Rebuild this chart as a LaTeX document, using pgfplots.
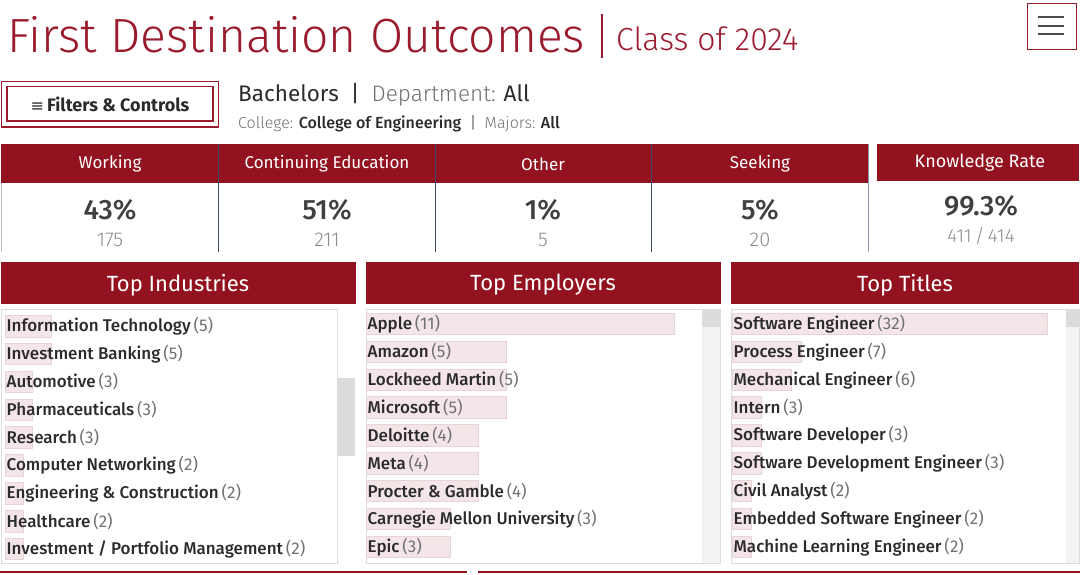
\documentclass[border=0pt]{standalone}
\usepackage{pgfplots}
\pgfplotsset{compat=1.18}
\usepackage{pgfplotstable}
\usepackage{fontspec}
\setmainfont{Fira Sans}
\newfontfamily\lightf{Fira Sans Light}
\newfontfamily\medf{Fira Sans Medium}
\newfontfamily\sym{DejaVu Sans}
\definecolor{dred}{HTML}{93121F}
\definecolor{tred}{HTML}{9A1B2E}
\definecolor{barf}{HTML}{F4E6E8}
\definecolor{bard}{HTML}{E8D4D7}
\definecolor{txt}{HTML}{2B2B2B}
\definecolor{cnt}{HTML}{707070}
\definecolor{lgray}{HTML}{8A8A8A}
\definecolor{navy}{HTML}{3E4C6A}
\definecolor{bord}{HTML}{DCDCDC}
\definecolor{track}{HTML}{F3F3F3}
\definecolor{thumb}{HTML}{DCDCDC}
\newcommand\fs[1]{\fontsize{#1}{#1}\selectfont}

\pgfplotstableread[col sep=comma]{
name,n
Information Technology,5
Investment Banking,5
Automotive,3
Pharmaceuticals,3
Research,3
Computer Networking,2
Engineering \& Construction,2
Healthcare,2
Investment / Portfolio Management,2
}\industries
\pgfplotstableread[col sep=comma]{
name,n
Apple,11
Amazon,5
Lockheed Martin,5
Microsoft,5
Deloitte,4
Meta,4
Procter \& Gamble,4
Carnegie Mellon University,3
Epic,3
}\employers
\pgfplotstableread[col sep=comma]{
name,n
Software Engineer,32
Process Engineer,7
Mechanical Engineer,6
Intern,3
Software Developer,3
Software Development Engineer,3
Civil Analyst,2
Embedded Software Engineer,2
Machine Learning Engineer,2
}\titles

\pgfplotsset{
  listax/.style={scale only axis, hide axis, y dir=reverse, xmin=0,
    height=254pt, anchor=north west, clip=false},
  barsty/.style={xbar, bar width=21.5pt, fill=barf, draw=bard, line width=0.8pt},
  lblsty/.style={draw=none, mark=none, point meta=explicit symbolic,
    visualization depends on={\thisrow{n}\as\cnt},
    nodes near coords={{\medf\color{txt}\pgfplotspointmeta}\,{\color{cnt}(\pgfmathprintnumber[fixed,precision=0,assume math mode=true]{\cnt})}},
    nodes near coords align={anchor=west},
    every node near coord/.append style={font=\fs{17}, xshift=1.5pt, inner sep=0pt}},
}

\begin{document}
\begin{tikzpicture}
\begin{scope}[x=1pt,y=1pt]
\path[use as bounding box] (0,0) rectangle (1080,-574);

% Title
\node[anchor=base west, inner sep=0pt, text=tred, font=\lightf\fs{48}] at (7,-52) {First Destination Outcomes};
\draw[tred, line width=2pt] (602,-14) -- (602,-58);
\node[anchor=base west, inner sep=0pt, text=tred, font=\lightf\fs{32}] at (616,-50) {Class of 2024};
% hamburger
\draw[tred, line width=1.5pt] (1027.5,-3.5) rectangle (1076.5,-49.5);
\foreach \yy in {17.3,25.7,33.7} \draw[black!70, line width=2pt] (1038,-\yy) -- (1064,-\yy);

% Filters button
\draw[tred, line width=1.3pt] (1.5,-81.5) rectangle (218.5,-127);
\draw[tred, line width=1.1pt] (7,-86.5) rectangle (213,-121);
\node[font=\fs{18}, text=txt] at (110,-104) {{\sym\fs{16}≡}\,{\bfseries Filters \& Controls}};

\node[anchor=base west, inner sep=0pt, font=\fs{22.5}, text=txt] at (238,-101) {Bachelors\ \ |\ \ {\lightf\color{cnt}Department:} All};
\node[anchor=base west, inner sep=0pt, font=\fs{16}, text=txt] at (238,-128) {{\lightf\color{cnt}College:} {\medf College of Engineering}\ \ {\color{cnt}|}\ \ {\lightf\color{cnt}Majors:} {\medf All}};

% KPI row
\fill[dred] (1,-144) rectangle (868,-183);
\fill[dred] (877,-144) rectangle (1079,-181);
\draw[black!25] (1.5,-183) -- (1.5,-252);
\foreach \xx in {218,435,651} \draw[navy, line width=0.9pt] (\xx,-144) -- (\xx,-252);
\draw[navy!60, line width=0.9pt] (868,-144) -- (868,-252);
\foreach \xx/\hh/\vv/\cc in {110/Working/43/175, 327/Continuing Education/51/211, 543/Other/1/5, 760/Seeking/5/20}{
  \node[font=\fs{17}, text=white] at (\xx,-164) {\hh};
  \node[font=\medf\fs{28}, text=txt!90] at (\xx,-210) {\vv\%};
  \node[font=\lightf\fs{20}, text=lgray] at (\xx,-240) {\cc};
}
\node[font=\fs{18}, text=white] at (980,-163) {Knowledge Rate};
\node[font=\medf\fs{28}, text=txt!90] at (981,-206) {99.3\%};
\node[font=\lightf\fs{19}, text=lgray] at (981,-236) {411\,/\,414};

% Panel headers
\fill[dred] (1,-262) rectangle (356,-304);
\fill[dred] (366,-262) rectangle (721,-304);
\fill[dred] (731,-262) rectangle (1079,-304);
\node[font=\fs{22}, text=white] at (178,-285) {Top Industries};
\node[font=\fs{22}, text=white] at (543,-285) {Top Employers};
\node[font=\fs{22}, text=white] at (905,-285) {Top Titles};

% list boxes
\draw[bord] (1.5,-309.5) rectangle (337,-563);
\fill[thumb] (337,-378) rectangle (355,-456);
\fill[track] (702,-309.5) rectangle (720,-563);
\fill[thumb] (702,-309.5) rectangle (720,-327);
\draw[bord] (366,-309.5) rectangle (720,-563);
\fill[track] (1066,-309.5) rectangle (1079,-563);
\fill[thumb] (1066,-309.5) rectangle (1079,-327);
\draw[bord] (731,-309.5) rectangle (1079,-563);

% bottom lines
\draw[dred, line width=2pt] (0,-572) -- (467,-572);
\draw[dred, line width=2pt] (478,-572) -- (1080,-572);
\end{scope}

% Industries
\begin{axis}[listax, at={(5pt,-309.5pt)}, width=332pt, xmax=36.1, ymin=-0.6, ymax=8.52]
\addplot[barsty] table[x=n, y expr=\coordindex]{\industries};
\addplot[lblsty] table[x expr=0, y expr=\coordindex, meta=name]{\industries};
\end{axis}
% Employers
\begin{axis}[listax, at={(366pt,-309.5pt)}, width=336pt, xmax=12, ymin=-0.52, ymax=8.6]
\addplot[barsty] table[x=n, y expr=\coordindex]{\employers};
\addplot[lblsty] table[x expr=0, y expr=\coordindex, meta=name]{\employers};
\end{axis}
% Titles
\begin{axis}[listax, at={(732pt,-309.5pt)}, width=334pt, xmax=33.9, ymin=-0.52, ymax=8.6]
\addplot[barsty] table[x=n, y expr=\coordindex]{\titles};
\addplot[lblsty] table[x expr=0, y expr=\coordindex, meta=name]{\titles};
\end{axis}
\end{tikzpicture}
\end{document}
